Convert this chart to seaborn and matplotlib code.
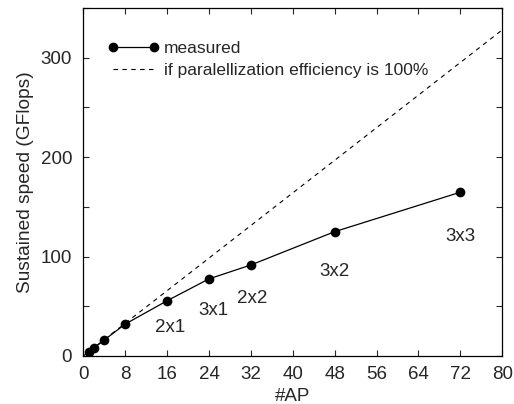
import pandas as pd
import matplotlib
matplotlib.use("Agg")
import matplotlib.pyplot as plt
import seaborn as sns

# measured speed vs number of APs
n_ap = [1, 2, 4, 8, 16, 24, 32, 48, 72]
speed = [4.2, 7.8, 16.0, 32.0, 55.5, 77.5, 91.5, 125.0, 164.7]

# ideal line (100% efficiency)
ideal_ap = [0, 80]
ideal_speed = [0, 328]

# node configuration labels
cfg_labels = ["2x1", "3x1", "2x2", "3x2", "3x3"]
cfg_x = [16.6, 24.8, 32.2, 48.0, 72.0]
cfg_y = [29, 46, 58, 85, 120]

sns.set_style("ticks")
plt.rcParams["font.family"] = ["Liberation Sans", "DejaVu Sans"]
plt.rcParams["xtick.direction"] = "in"
plt.rcParams["ytick.direction"] = "in"

fig = plt.figure(figsize=(5.14, 4.04), dpi=100)
ax = fig.add_axes([0.162, 0.119, 0.815, 0.861])

df = pd.DataFrame({"AP": n_ap, "speed": speed})
sns.lineplot(data=df, x="AP", y="speed", ax=ax, color="black", lw=0.9,
             marker="o", markersize=7, markeredgewidth=0, label="measured")
ideal = pd.DataFrame({"AP": ideal_ap, "speed": ideal_speed})
sns.lineplot(data=ideal, x="AP", y="speed", ax=ax, color="black", lw=0.8,
             linestyle=(0, (4, 4)), label="if paralellization efficiency is 100%")

for lab, x, y in zip(cfg_labels, cfg_x, cfg_y):
    ax.text(x, y, lab, ha="center", va="center", fontsize=13.5)

ax.set_xlim(0, 80)
ax.set_ylim(0, 350)
ax.set_xticks(range(0, 81, 8))
ax.set_yticks([0, 100, 200, 300])
ax.set_yticks(range(0, 351, 50), minor=True)
ax.tick_params(which="both", top=True, right=True, labelsize=13.5, length=4, width=0.8)
ax.tick_params(axis="y", which="major", pad=8)
ax.tick_params(axis="x", which="major", pad=7)
for s in ax.spines.values():
    s.set_linewidth(0.9)
    s.set_color("black")

ax.set_xlabel("#AP", fontsize=13.5, labelpad=4)
ax.set_ylabel("Sustained speed (GFlops)", fontsize=13.8, labelpad=4.5)

ax.legend(loc="upper left", bbox_to_anchor=(0.042, 0.925), frameon=False,
          fontsize=12.5, numpoints=2, handlelength=2.95, handletextpad=0.3,
          labelspacing=0.38, borderaxespad=0)

fig.savefig("out.png", dpi=100)
